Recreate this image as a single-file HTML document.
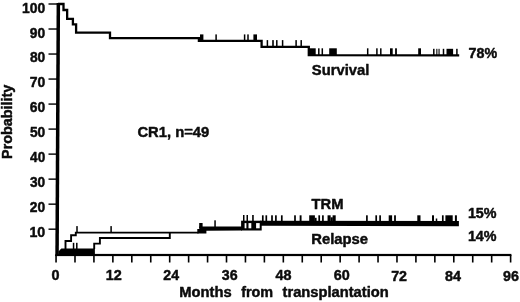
<!DOCTYPE html>
<html><head><meta charset="utf-8"><title>Probability vs months from transplantation</title>
<style>html,body{margin:0;padding:0;background:#fff;overflow:hidden}svg{display:block}text{font-family:"Liberation Sans",Arial,Helvetica,sans-serif;font-weight:bold;fill:#0c0c0c;stroke:#0c0c0c;stroke-width:0.45px;stroke-linejoin:round}</style>
</head><body>
<svg width="520" height="302" viewBox="0 0 520 302">
<rect width="520" height="302" fill="#fff"/>
<g fill="#000" stroke="none">
<polygon points="56.6,3.1 60.1,3.1 58.8,256 55.3,256"/>
<rect x="55.4" y="253.9" width="456" height="2.2"/>
<rect x="55.25" y="255" width="1.6" height="7.5"/>
<rect x="74.19" y="255" width="1.6" height="7.5"/>
<rect x="93.13" y="255" width="1.6" height="7.5"/>
<rect x="112.07" y="255" width="1.6" height="7.5"/>
<rect x="131.01" y="255" width="1.6" height="7.5"/>
<rect x="149.95" y="255" width="1.6" height="7.5"/>
<rect x="168.89" y="255" width="1.6" height="7.5"/>
<rect x="187.83" y="255" width="1.6" height="7.5"/>
<rect x="206.77" y="255" width="1.6" height="7.5"/>
<rect x="225.71" y="255" width="1.6" height="7.5"/>
<rect x="244.65" y="255" width="1.6" height="7.5"/>
<rect x="263.59" y="255" width="1.6" height="7.5"/>
<rect x="282.53" y="255" width="1.6" height="7.5"/>
<rect x="301.47" y="255" width="1.6" height="7.5"/>
<rect x="320.41" y="255" width="1.6" height="7.5"/>
<rect x="339.35" y="255" width="1.6" height="7.5"/>
<rect x="358.29" y="255" width="1.6" height="7.5"/>
<rect x="377.23" y="255" width="1.6" height="7.5"/>
<rect x="396.17" y="255" width="1.6" height="7.5"/>
<rect x="415.11" y="255" width="1.6" height="7.5"/>
<rect x="434.05" y="255" width="1.6" height="7.5"/>
<rect x="452.99" y="255" width="1.6" height="7.5"/>
<rect x="471.93" y="255" width="1.6" height="7.5"/>
<rect x="490.87" y="255" width="1.6" height="7.5"/>
<rect x="509.81" y="255" width="1.6" height="7.5"/>
<rect x="48.5" y="3.30" width="8.5" height="1.4"/>
<rect x="48.5" y="28.32" width="8.5" height="1.4"/>
<rect x="48.5" y="53.34" width="8.5" height="1.4"/>
<rect x="48.5" y="78.36" width="8.5" height="1.4"/>
<rect x="48.5" y="103.38" width="8.5" height="1.4"/>
<rect x="48.5" y="128.40" width="8.5" height="1.4"/>
<rect x="48.5" y="153.42" width="8.5" height="1.4"/>
<rect x="48.5" y="178.44" width="8.5" height="1.4"/>
<rect x="48.5" y="203.46" width="8.5" height="1.4"/>
<rect x="48.5" y="228.48" width="8.5" height="1.4"/>
</g>
<text x="22.05" y="12.65" font-size="14.00" textLength="23.20" lengthAdjust="spacingAndGlyphs">100</text>
<text x="29.85" y="37.55" font-size="14.00" textLength="15.40" lengthAdjust="spacingAndGlyphs">90</text>
<text x="29.89" y="62.45" font-size="14.00" textLength="15.35" lengthAdjust="spacingAndGlyphs">80</text>
<text x="29.73" y="87.35" font-size="14.00" textLength="15.52" lengthAdjust="spacingAndGlyphs">70</text>
<text x="29.82" y="112.25" font-size="14.00" textLength="15.43" lengthAdjust="spacingAndGlyphs">60</text>
<text x="29.90" y="137.15" font-size="14.00" textLength="15.34" lengthAdjust="spacingAndGlyphs">50</text>
<text x="30.12" y="162.05" font-size="14.00" textLength="15.11" lengthAdjust="spacingAndGlyphs">40</text>
<text x="30.01" y="186.95" font-size="14.00" textLength="15.23" lengthAdjust="spacingAndGlyphs">30</text>
<text x="29.85" y="211.85" font-size="14.00" textLength="15.40" lengthAdjust="spacingAndGlyphs">20</text>
<text x="29.43" y="236.75" font-size="14.00" textLength="15.83" lengthAdjust="spacingAndGlyphs">10</text>
<text x="51.56" y="279.90" font-size="14.00" textLength="8.01" lengthAdjust="spacingAndGlyphs">0</text>
<text x="105.82" y="280.00" font-size="14.00" textLength="16.04" lengthAdjust="spacingAndGlyphs">12</text>
<text x="163.34" y="280.10" font-size="14.00" textLength="15.72" lengthAdjust="spacingAndGlyphs">24</text>
<text x="221.80" y="280.20" font-size="14.00" textLength="15.79" lengthAdjust="spacingAndGlyphs">36</text>
<text x="275.41" y="280.30" font-size="14.00" textLength="16.01" lengthAdjust="spacingAndGlyphs">48</text>
<text x="333.70" y="280.40" font-size="14.00" textLength="15.96" lengthAdjust="spacingAndGlyphs">60</text>
<text x="391.21" y="280.50" font-size="14.00" textLength="15.83" lengthAdjust="spacingAndGlyphs">72</text>
<text x="444.97" y="280.60" font-size="14.00" textLength="15.98" lengthAdjust="spacingAndGlyphs">84</text>
<text x="503.13" y="280.70" font-size="14.00" textLength="15.86" lengthAdjust="spacingAndGlyphs">96</text>
<text x="179.24" y="297.30" font-size="14.00" textLength="52.34" lengthAdjust="spacingAndGlyphs">Months</text>
<text x="241.18" y="297.30" font-size="14.00" textLength="31.99" lengthAdjust="spacingAndGlyphs">from</text>
<text x="282.55" y="297.30" font-size="14.00" textLength="106.14" lengthAdjust="spacingAndGlyphs">transplantation</text>
<text transform="translate(11.6,158.2) rotate(-90)" x="-0.74" font-size="14" textLength="74.29" lengthAdjust="spacingAndGlyphs">Probability</text>
<text x="137.42" y="137.20" font-size="14.60" textLength="71.91" lengthAdjust="spacingAndGlyphs">CR1, n=49</text>
<text x="311.80" y="75.30" font-size="15.20" textLength="57.52" lengthAdjust="spacingAndGlyphs">Survival</text>
<text x="311.56" y="208.50" font-size="14.60" textLength="32.00" lengthAdjust="spacingAndGlyphs">TRM</text>
<text x="311.24" y="243.80" font-size="14.00" textLength="56.75" lengthAdjust="spacingAndGlyphs">Relapse</text>
<text x="468.61" y="58.20" font-size="14.00" textLength="28.54" lengthAdjust="spacingAndGlyphs">78%</text>
<text x="467.92" y="218.40" font-size="14.00" textLength="28.63" lengthAdjust="spacingAndGlyphs">15%</text>
<text x="467.92" y="240.60" font-size="14.00" textLength="28.63" lengthAdjust="spacingAndGlyphs">14%</text>
<g fill="none" stroke="#000" stroke-width="2" stroke-linejoin="miter" stroke-linecap="butt">
<path d="M58,4.0 H63.5 V10.0 H67.15 V18.9 H72.9 V24.3 H76.1 V32.6 H110 V38.15 H198.9 V40.95 H261.6 V46.9 H308.8 V55.1 L459.2,55.4" stroke-width="2.3"/>
</g>
<g fill="#000">
<rect x="200.00" y="34.40" width="3.40" height="6.50"/>
<rect x="215.35" y="34.40" width="1.50" height="6.50"/>
<rect x="243.85" y="34.40" width="1.50" height="6.50"/>
<rect x="247.25" y="34.40" width="1.50" height="6.50"/>
<rect x="253.40" y="34.40" width="3.60" height="6.50"/>
<rect x="266.65" y="40.10" width="1.50" height="6.90"/>
<rect x="272.20" y="40.10" width="1.60" height="6.90"/>
<rect x="276.05" y="40.10" width="1.50" height="6.90"/>
<rect x="281.85" y="40.10" width="1.50" height="6.90"/>
<rect x="295.35" y="40.10" width="1.50" height="6.90"/>
<rect x="300.45" y="40.10" width="1.50" height="6.90"/>
<rect x="308.00" y="48.30" width="7.70" height="6.70"/>
<rect x="318.05" y="48.30" width="1.50" height="6.70"/>
<rect x="321.55" y="48.30" width="1.50" height="6.70"/>
<rect x="329.20" y="48.30" width="7.60" height="6.70"/>
<rect x="366.95" y="48.30" width="1.50" height="6.70"/>
<rect x="376.15" y="48.30" width="1.50" height="6.70"/>
<rect x="380.05" y="48.30" width="1.50" height="6.70"/>
<rect x="390.00" y="48.30" width="2.70" height="6.70"/>
<rect x="395.10" y="48.30" width="1.80" height="6.70"/>
<rect x="418.20" y="48.30" width="2.80" height="6.70"/>
<rect x="433.05" y="48.80" width="1.50" height="6.40"/>
<rect x="436.30" y="48.80" width="1.10" height="6.40"/>
<rect x="438.50" y="48.80" width="1.10" height="6.40"/>
<rect x="442.75" y="48.80" width="1.50" height="6.40"/>
<rect x="446.50" y="48.80" width="6.60" height="6.40"/>
<rect x="456.15" y="48.80" width="1.50" height="6.40"/>
</g>
<g fill="#000">
<polygon points="58.5,251.6 61.3,248.4 94.9,248.4 94.9,255 58.5,255"/>
<rect x="72.80" y="242.80" width="1.50" height="6.20"/>
<rect x="76.05" y="242.80" width="1.50" height="6.20"/>
</g>
<g fill="none" stroke="#000" stroke-width="1.9" stroke-linejoin="miter">
<path d="M65.5,249 V241 H71.1 V235.3 H75.8 V232.6 H198.6"/>
<path d="M94.2,249 V243.6 H99.9 V238.05 H169.8 V232.6"/>
</g>
<g fill="#000">
<rect x="76.25" y="226.10" width="1.50" height="6.50"/>
<rect x="110.35" y="226.10" width="1.50" height="6.50"/>
<polygon points="197.3,229.1 199.2,229.1 199.2,226.5 242,226.5 242,230.5 206.4,230.7 206.4,233.6 197.3,233.6"/>
<rect x="199.20" y="223.00" width="3.40" height="5.00"/>
<rect x="214.30" y="220.30" width="1.50" height="7.70"/>
<rect x="241.1" y="220.7" width="20.6" height="9.8"/>
<g fill="#fff"><rect x="244.6" y="223.1" width="1.8" height="5.2"/><rect x="248.5" y="223.1" width="2.8" height="5.2"/><rect x="256.1" y="223.1" width="3.6" height="5.2"/></g>
<rect x="243.00" y="215.00" width="1.50" height="7.00"/>
<rect x="246.50" y="215.00" width="1.50" height="7.00"/>
<rect x="252.15" y="215.00" width="1.60" height="7.00"/>
<polygon points="260,220.7 458.9,221.1 458.9,226.3 260,225.7"/>
<rect x="261.95" y="215.30" width="1.70" height="5.90"/>
<rect x="265.45" y="215.30" width="1.70" height="5.90"/>
<rect x="271.15" y="215.30" width="1.70" height="5.90"/>
<rect x="275.05" y="215.30" width="1.70" height="5.90"/>
<rect x="280.95" y="215.30" width="1.70" height="5.90"/>
<rect x="294.15" y="215.30" width="1.70" height="5.90"/>
<rect x="299.65" y="215.30" width="1.90" height="5.90"/>
<rect x="309.20" y="215.30" width="5.70" height="5.90"/>
<rect x="318.35" y="215.30" width="1.70" height="5.90"/>
<rect x="322.05" y="215.30" width="1.70" height="5.90"/>
<rect x="327.55" y="215.30" width="3.10" height="5.90"/>
<rect x="332.60" y="215.30" width="3.10" height="5.90"/>
<rect x="366.05" y="215.30" width="1.70" height="5.90"/>
<rect x="375.35" y="215.30" width="1.70" height="5.90"/>
<rect x="379.25" y="215.30" width="1.70" height="5.90"/>
<rect x="388.70" y="215.30" width="3.40" height="5.90"/>
<rect x="394.10" y="215.30" width="1.80" height="5.90"/>
<rect x="417.30" y="215.30" width="3.20" height="5.90"/>
<rect x="432.00" y="215.30" width="2.00" height="5.90"/>
<rect x="441.95" y="215.30" width="1.70" height="5.90"/>
<rect x="445.40" y="215.30" width="7.30" height="5.90"/>
<rect x="454.90" y="215.30" width="2.00" height="5.90"/>
<rect x="314.80" y="217.80" width="1.80" height="3.20"/>
<rect x="330.60" y="217.30" width="2.20" height="3.70"/>
<rect x="435.75" y="218.50" width="1.50" height="2.70"/>
</g>
</svg></body></html>
